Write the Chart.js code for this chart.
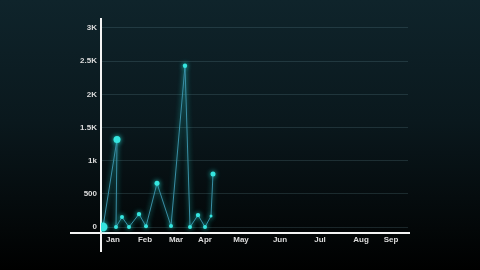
<!DOCTYPE html>
<html><head><meta charset="utf-8">
<script src="https://cdn.jsdelivr.net/npm/chart.js@4/dist/chart.umd.min.js"></script>
<style>
html,body{margin:0;padding:0;width:480px;height:270px;overflow:hidden;
background:linear-gradient(to bottom,#0f242b 0%,#0a181d 45%,#030708 85%,#000 100%);}
canvas{display:block;}
</style></head><body>
<canvas id="c" width="480" height="270"></canvas>
<script>
// x positions in days (approx), values
const days   = [2, 16, 15, 21, 28, 38, 45, 56, 70, 84, 89, 97, 104, 110, 112];
const values = [0, 1320, 0, 150, 0, 195, 10, 660, 15, 2430, 0, 180, 0, 165, 800];
const pointSizes = [4.5, 3.5, 2, 2, 2, 2.2, 2, 2.5, 2, 2.2, 2, 2.2, 2, 1.5, 2.5];
const monthNames = ['Jan','Feb','Mar','Apr','May','Jun','Jul','Aug','Sep'];
const monthDays  = [12, 44, 75, 104, 140, 179, 219, 260, 290];
const yTicks = [0, 500, 1000, 1500, 2000, 2500, 3000];
const yLabels = ['0', '500', '1k', '1.5K', '2K', '2.5K', '3K'];

const axisLines = {
  id: 'axisLines',
  beforeDatasetsDraw(chart) {
    const {ctx, chartArea: a} = chart;
    ctx.save();
    ctx.strokeStyle = '#f4f4f4';
    ctx.lineWidth = 2;
    ctx.beginPath();
    ctx.moveTo(70, a.bottom);
    ctx.lineTo(a.right + 2, a.bottom);
    ctx.moveTo(a.left, a.top);
    ctx.lineTo(a.left, a.bottom + 19);
    ctx.stroke();
    ctx.restore();
  }
};
const glow = {
  id: 'glow',
  beforeDatasetDraw(chart) {
    const ctx = chart.ctx;
    ctx.save();
    ctx.shadowColor = 'rgba(40,240,230,0.85)';
    ctx.shadowBlur = 5;
  },
  afterDatasetDraw(chart) { chart.ctx.restore(); }
};

new Chart(document.getElementById('c'), {
  type: 'line',
  data: {
    datasets: [{
      data: days.map((d, i) => ({x: d, y: values[i]})),
      borderColor: '#3a8ea6',
      borderWidth: 1,
      pointBackgroundColor: '#35e6e0',
      pointBorderColor: '#35e6e0',
      pointBorderWidth: 0,
      pointRadius: pointSizes,
      tension: 0
    }]
  },
  options: {
    responsive: false,
    animation: false,
    layout: {padding: {left: 0, right: 72, top: 18, bottom: 0}},
    plugins: {legend: {display: false}, tooltip: {enabled: false}},
    scales: {
      x: {
        type: 'linear', min: 0, max: 307,
        border: {display: false},
        grid: {display: false, drawTicks: false},
        afterBuildTicks: s => { s.ticks = monthDays.map(v => ({value: v})); },
        afterFit: s => { s.height = 37; },
        ticks: {
          autoSkip: false, maxRotation: 0, padding: 2,
          color: '#dcdcdc',
          font: {family: 'Liberation Sans', weight: 'bold', size: 8},
          callback: (v) => monthNames[monthDays.indexOf(v)]
        }
      },
      y: {
        min: -90, max: 3150,
        border: {display: false},
        grid: {color: 'rgba(110,150,160,0.22)', lineWidth: 1, drawTicks: false},
        afterBuildTicks: s => { s.ticks = yTicks.map(v => ({value: v})); },
        afterFit: s => { s.width = 101; },
        ticks: {
          padding: 4,
          color: '#dcdcdc',
          font: {family: 'Liberation Sans', weight: 'bold', size: 8},
          callback: (v) => yLabels[yTicks.indexOf(v)]
        }
      }
    }
  },
  plugins: [axisLines, glow]
});
</script>
</body></html>
